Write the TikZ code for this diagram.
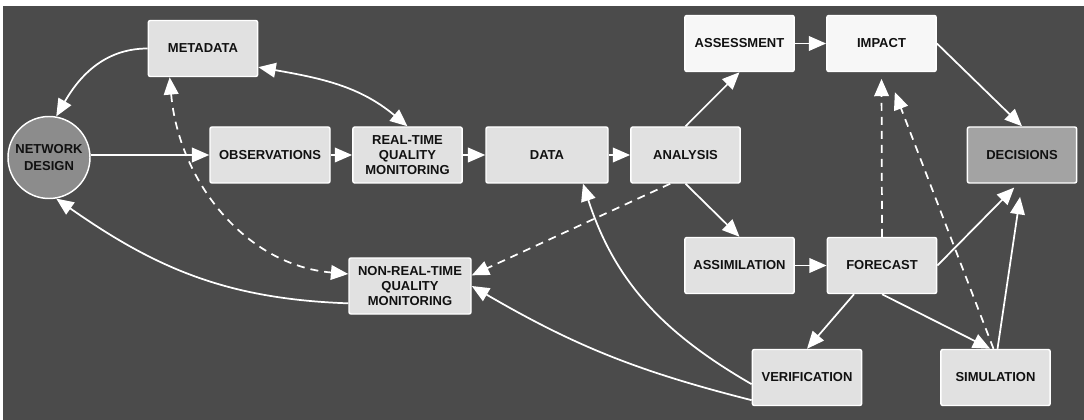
\documentclass[tikz,border=0pt]{standalone}
\usepackage{fontspec}
\setmainfont{Liberation Sans}
\usetikzlibrary{arrows.meta}
\definecolor{bgdark}{RGB}{75,75,75}
\definecolor{boxgray}{RGB}{225,225,225}
\definecolor{boxlight}{RGB}{247,247,247}
\definecolor{decgray}{RGB}{163,163,163}
\definecolor{netgray}{RGB}{140,140,140}
\definecolor{textdark}{RGB}{17,17,17}
\begin{document}
\begin{tikzpicture}[x=0.75pt, y=0.75pt,
    box/.style={draw=white, line width=1.1pt, rounded corners=1.5pt, fill=boxgray,
        minimum width=82pt, minimum height=42pt, align=center, text=textdark, inner sep=1pt,
        font=\fontsize{9.75}{11.25}\selectfont\bfseries},
    flow/.style={draw=white, line width=1.3pt, -{Triangle[length=13pt,width=11pt]}},
    flowboth/.style={draw=white, line width=1.3pt, {Triangle[length=13pt,width=11pt]}-{Triangle[length=13pt,width=11pt]}},
    broken/.style={dash pattern=on 6pt off 4.5pt}]
    % Background
    \useasboundingbox (0,0) rectangle (1084,-420);
    \fill[white] (0,0) rectangle (1084,-420);
    \fill[bgdark] (3,-6) rectangle (1084,-420);

    % Boxes
    \node[box, circle, fill=netgray, minimum size=61.5pt, font=\fontsize{9.75}{12.5}\selectfont\bfseries] (nd) at (49,-157.5) {NETWORK\\DESIGN};
    \node[box] (meta) at (203,-48.5) {METADATA};
    \node[box, minimum width=90pt] (obs) at (270,-155) {OBSERVATIONS};
    \node[box] (rtqm) at (407.5,-155) {REAL-TIME\\QUALITY\\MONITORING};
    \node[box, minimum width=91.5pt] (data) at (547,-155) {DATA};
    \node[box] (ana) at (685.5,-155) {ANALYSIS};
    \node[box, fill=boxlight] (ass) at (739.5,-43.5) {ASSESSMENT};
    \node[box, fill=boxlight] (imp) at (881.5,-43.5) {IMPACT};
    \node[box, fill=decgray] (dec) at (1022,-155) {DECISIONS};
    \node[box] (assim) at (739.5,-265.5) {ASSIMILATION};
    \node[box] (fc) at (882,-265.5) {FORECAST};
    \node[box, minimum width=91.5pt] (nrtqm) at (410,-286) {NON-REAL-TIME\\QUALITY\\MONITORING};
    \node[box] (ver) at (807,-377.5) {VERIFICATION};
    \node[box] (sim) at (995.5,-377.5) {SIMULATION};

    % Main chain
    \draw[flow] (nd.east |- obs.west) -- (obs.west);
    \draw[flow] (obs) -- (rtqm);
    \draw[flow] (rtqm) -- (data);
    \draw[flow] (data) -- (ana);
    \draw[flow] (ana.north) -- (ass.south);
    \draw[flow] (ass) -- (imp);
    \draw[flow] (imp.east) -- (dec.north);
    \draw[flow] (ana.south) -- (assim.north);
    \draw[flow] (assim) -- (fc);
    \draw[flow] ([xshift=-21pt]fc.south) -- (ver.north);
    \draw[flow] (fc.south) -- ([xshift=-4pt]sim.north);
    \draw[flow, shorten >=4pt] (fc.east) -- ([xshift=-3pt]dec.south);
    \draw[flow, shorten >=10pt] ([xshift=1.5pt]sim.north) -- (dec.south);

    % Feedback loops
    \draw[flow] (meta.west) to[out=180, in=60] (nd.80);
    \draw[flowboth] ([yshift=-14pt]meta.east) to[out=-10, in=140] (rtqm.north);
    \draw[flow] ([yshift=-5pt]ver.west) to[out=150, in=-72] ([xshift=27pt]data.south);
    \draw[flow] ([yshift=-17pt]ver.west) to[bend left=8] (nrtqm.east);
    \draw[flow] ([yshift=-13pt]nrtqm.west) to[out=178, in=-35] (nd.280);

    % Dashed links
    \draw[flow, broken, shorten >=5pt] (fc.north) -- (imp.south);
    \draw[flow, broken] ([xshift=-1.5pt]sim.north) -- ([shift={(10pt,-15pt)}]imp.south);
    \draw[flow, broken] ([xshift=-11.5pt]ana.south) -- ([yshift=8pt]nrtqm.east);
    \draw[flowboth, broken] ([xshift=-25pt]meta.south) to[out=-85, in=175] ([yshift=9pt]nrtqm.west);
\end{tikzpicture}
\end{document}
